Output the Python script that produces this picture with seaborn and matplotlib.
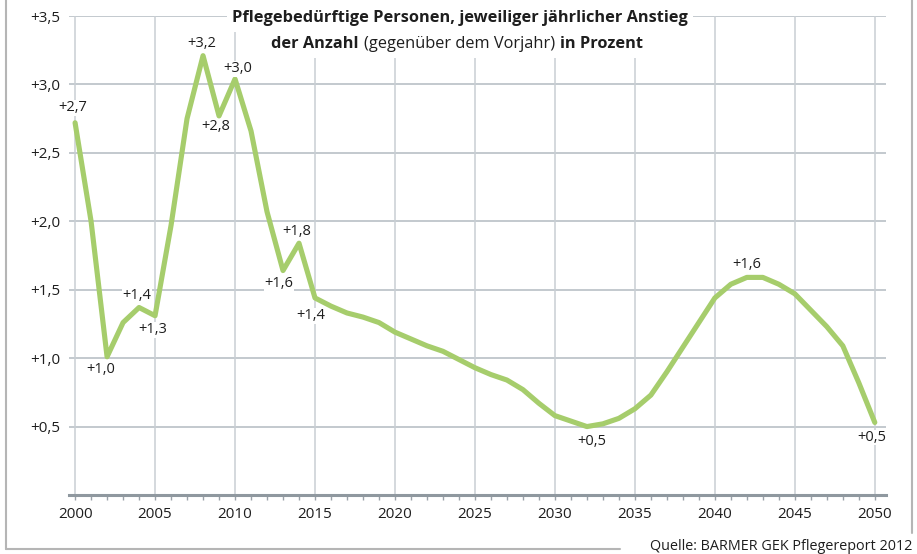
import seaborn as sns
import matplotlib.pyplot as plt
import pandas as pd
from matplotlib.lines import Line2D
from matplotlib.ticker import MultipleLocator
from matplotlib.offsetbox import TextArea, HPacker, AnnotationBbox

# data
years = list(range(2000, 2051))
values = [2.72, 2.00, 1.01, 1.26, 1.37, 1.31, 1.97, 2.75, 3.21, 2.77,
          3.04, 2.66, 2.07, 1.64, 1.84, 1.44, 1.38, 1.33, 1.30, 1.26,
          1.19, 1.14, 1.09, 1.05, 0.99, 0.93, 0.88, 0.84, 0.77, 0.67,
          0.58, 0.54, 0.50, 0.52, 0.56, 0.63, 0.73, 0.90, 1.08, 1.26,
          1.44, 1.54, 1.59, 1.59, 1.54, 1.47, 1.35, 1.23, 1.09, 0.82, 0.53]
label_years = [2000, 2002, 2004, 2005, 2008, 2009, 2010, 2013, 2014, 2015, 2032, 2042, 2050]
label_offsets = [(-2, 15), (-6, -13), (-2, 12), (-2, -14), (-1, 12), (-3, -11), (3, 10),
                 (-4, -13), (-2, 12), (-4, -18), (5, -15), (0, 13), (-3, -15)]
ytick_values = [0.5, 1.0, 1.5, 2.0, 2.5, 3.0, 3.5]
title_line1 = [("Pflegebedürftige Personen, jeweiliger jährlicher Anstieg", "bold")]
title_line2 = [("der Anzahl", "bold"), ("(gegenüber dem Vorjahr)", "normal"), ("in Prozent", "bold")]
source = "Quelle: BARMER GEK Pflegereport 2012"

df = pd.DataFrame({"Jahr": years, "Anstieg": values})

sns.set_style("white")
plt.rcParams["font.family"] = ["Open Sans", "DejaVu Sans"]

green = "#a6cd6c"
text_col = "#1e1e1e"

fig = plt.figure(figsize=(9.17, 5.54), dpi=100)
ax = fig.add_axes([69 / 917, 1 - 495 / 554, (886 - 69) / 917, (495 - 16) / 554])

sns.lineplot(data=df, x="Jahr", y="Anstieg", color=green, linewidth=3.7, ax=ax, zorder=3)

ax.set_xlim(1999.62, 2050.7)
ax.set_ylim(0, 3.5)
ax.xaxis.set_major_locator(MultipleLocator(5))
ax.xaxis.set_minor_locator(MultipleLocator(1))
ax.set_yticks(ytick_values)
ax.set_yticklabels(["+" + f"{v:.1f}".replace(".", ",") for v in ytick_values])
ax.set_xlabel("")
ax.set_ylabel("")

# grid
for v in ytick_values:
    ax.axhline(v, color="#b3bac1", linewidth=1.1, zorder=1)
for yr in range(2000, 2051, 5):
    ax.axvline(yr, color="#c9ced3", linewidth=1.1, zorder=1)

for s in ["top", "right", "left"]:
    ax.spines[s].set_visible(False)
ax.spines["bottom"].set_color("#8f989f")
ax.spines["bottom"].set_linewidth(2.2)
ax.spines["bottom"].set_zorder(2)

ax.tick_params(axis="x", which="both", direction="out", length=3.5, width=1, color="#9aa2a9",
               labelsize=11, labelcolor=text_col, pad=5, bottom=True)
ax.tick_params(axis="y", length=0, labelsize=11, labelcolor=text_col, pad=6)

# value labels
for yr, (dx, dy) in zip(label_years, label_offsets):
    v = values[years.index(yr)]
    txt = "+" + f"{v:.1f}".replace(".", ",")
    ax.annotate(txt, (yr, v), xytext=(dx, dy), textcoords="offset pixels",
                ha="center", va="center", fontsize=10.5, color=text_col, zorder=4,
                bbox=dict(facecolor="white", edgecolor="none", pad=0.3))


# title with mixed weights, white box over the grid
def title_row(parts, xy):
    boxes = [TextArea(t, textprops=dict(fontsize=11.8, fontweight=w, color=text_col)) for t, w in parts]
    pack = HPacker(children=boxes, align="baseline", pad=0, sep=4)
    ab = AnnotationBbox(pack, xy, xycoords="figure fraction", frameon=True, pad=0.4,
                        box_alignment=(0.5, 0.5), zorder=5,
                        bboxprops=dict(facecolor="white", edgecolor="none"))
    fig.add_artist(ab)


title_row(title_line1, (460 / 917, 1 - 18 / 554))
title_row(title_line2, (457 / 917, 1 - 44 / 554))

# outer frame
frame_col = "#b5b5b5"
fig.add_artist(Line2D([6 / 917, 6 / 917], [1, 1 - 549 / 554], color=frame_col, linewidth=1.5))
fig.add_artist(Line2D([6 / 917, 620 / 917], [1 - 549 / 554, 1 - 549 / 554], color=frame_col, linewidth=1.5))
fig.add_artist(Line2D([912 / 917, 912 / 917], [1, 1 - 533 / 554], color=frame_col, linewidth=1.5))
fig.text(912 / 917, 1 - 546 / 554, source, ha="right", va="center", fontsize=10.4, color=text_col,
         bbox=dict(facecolor="white", edgecolor="none", pad=1))

fig.savefig("out.png", dpi=100)
